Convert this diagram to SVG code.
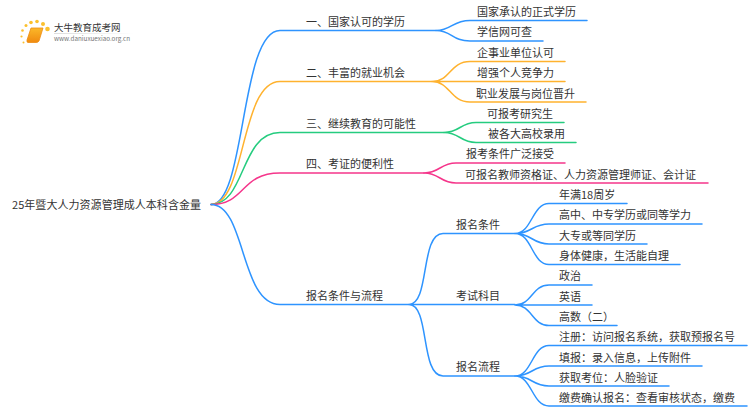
<svg xmlns="http://www.w3.org/2000/svg" width="750" height="410" viewBox="0 0 750 410">
<style>
text{font-family:"Noto Sans CJK SC","Noto Sans",sans-serif;font-size:11px;fill:#333}
.c{fill:none;stroke-width:1.5;stroke-linecap:round}
.b{stroke:#2e94ff}.o{stroke:#ffb22e}.g{stroke:#25cc7f}.p{stroke:#f5368b}
.dot{fill:#fbc02d}
</style>
<defs><linearGradient id="rule"><stop offset="0" stop-color="#ddd"/><stop offset="1" stop-color="#ddd" stop-opacity="0"/></linearGradient>
<linearGradient id="book" x1="0" y1="0" x2="0" y2="1"><stop offset="0" stop-color="#fbb829"/><stop offset="1" stop-color="#f08a10"/></linearGradient></defs>
<g id="connectors">
<path class="c b" d="M211 204.5C246 204.5 240 30.500 280 30.500H436"/>
<path class="c o" d="M211 204.500C246 204.500 240 81.500 280 81.500H432"/>
<path class="c g" d="M211 204.500C246 204.500 240 132.500 280 132.500H444"/>
<path class="c p" d="M211 204.500C246 204.500 240 173 280 173H424"/>
<path class="c b" d="M211 204.500C246 204.500 240 304.500 280 304.500H409"/>
<path class="c b" d="M436 30.500C452 30.500 452 20.500 470 20.500H587M436 30.500C452 30.500 452 41 470 41H543"/>
<path class="c o" d="M432 81.500C450 81.500 450 61.500 470 61.500H565M432 81.500H565M432 81.500C450 81.500 450 102 470 102H586"/>
<path class="c g" d="M444 132.500C460 132.500 460 122.500 476 122.500H564M444 132.500C460 132.500 460 142.500 476 142.500H576"/>
<path class="c p" d="M424 173C440 173 440 163 456 163H565M424 173C440 173 440 183 456 183H708"/>
<path class="c b" d="M409 304.500C430 304.500 420 233.500 443 233.500H515M409 304.500H515M409 304.500C430 304.500 420 376 443 376H515"/>
<path class="c b" d="M515 233.500C532 233.500 532 203.500 549 203.500H627M515 233.500C532 233.500 532 224 549 224H702M515 233.500C532 233.500 532 244 549 244H647M515 233.500C532 233.500 532 264.500 549 264.500H680"/>
<path class="c b" d="M515 305C532 305 532 285 549 285H592M515 305H592M515 305C532 305 532 325.500 549 325.500H617"/>
<path class="c b" d="M515 376C532 376 532 345.500 549 345.500H747M515 376C532 376 532 366 549 366H702M515 376C532 376 532 386 549 386H669M515 376C532 376 532 406 549 406H747"/>
</g>
<g id="logo">
<circle class="dot" cx="47.500" cy="29" r="2.300"/><circle class="dot" cx="43" cy="24" r="2"/><circle class="dot" cx="37" cy="21.500" r="1.800"/><circle class="dot" cx="31" cy="22.500" r="1.800"/><circle class="dot" cx="26" cy="25.500" r="1.500"/><circle class="dot" cx="22.500" cy="30.500" r="1.300"/><circle class="dot" cx="21.500" cy="36.500" r="1.100"/><circle class="dot" cx="23.500" cy="42.500" r="1"/>
<path d="M31 28H43L39 41Q38 42.500 36 42.500H28Q26.500 42.500 27 40Z" fill="url(#book)" stroke="#ee8d12" stroke-width="0.800"/>
<rect x="54" y="33" width="80" height="1" fill="url(#rule)"/>
<text x="54" y="31" style="font-size:9.500px" fill="#444">大牛教育成考网</text>
<text x="54" y="41" style="font-size:6.300px;fill:#777">www.daniuxuexiao.org.cn</text>
</g>
<g id="root"><text x="12" y="209" textLength="189">25年暨大人力资源管理成人本科含金量</text></g>
<g id="n1"><text x="306" y="26">一、国家认可的学历</text></g>
<g id="n2"><text x="306" y="77">二、丰富的就业机会</text></g>
<g id="n3"><text x="306" y="128">三、继续教育的可能性</text></g>
<g id="n4"><text x="306" y="168">四、考证的便利性</text></g>
<g id="n5"><text x="306" y="300">报名条件与流程</text></g>
<g id="n1a"><text x="477" y="16">国家承认的正式学历</text></g>
<g id="n1b"><text x="477" y="36">学信网可查</text></g>
<g id="n2a"><text x="477" y="57">企事业单位认可</text></g>
<g id="n2b"><text x="477" y="77">增强个人竞争力</text></g>
<g id="n2c"><text x="476" y="98">职业发展与岗位晋升</text></g>
<g id="n3a"><text x="487" y="118">可报考研究生</text></g>
<g id="n3b"><text x="488" y="138">被各大高校录用</text></g>
<g id="n4a"><text x="466" y="158">报考条件广泛接受</text></g>
<g id="n4b"><text x="465" y="179">可报名教师资格证、人力资源管理师证、会计证</text></g>
<g id="n5a"><text x="456" y="229">报名条件</text></g>
<g id="n5b"><text x="456" y="300">考试科目</text></g>
<g id="n5c"><text x="456" y="371">报名流程</text></g>
<g id="l1"><text x="559" y="199">年满18周岁</text></g>
<g id="l2"><text x="559" y="219">高中、中专学历或同等学力</text></g>
<g id="l3"><text x="559" y="240">大专或等同学历</text></g>
<g id="l4"><text x="559" y="260">身体健康，生活能自理</text></g>
<g id="l5"><text x="559" y="280">政治</text></g>
<g id="l6"><text x="559" y="301">英语</text></g>
<g id="l7"><text x="559" y="321">高数（二）</text></g>
<g id="l8"><text x="559" y="341">注册：访问报名系统，获取预报名号</text></g>
<g id="l9"><text x="559" y="362">填报：录入信息，上传附件</text></g>
<g id="l10"><text x="559" y="382">获取考位：人脸验证</text></g>
<g id="l11"><text x="559" y="402">缴费确认报名：查看审核状态，缴费</text></g>
</svg>
